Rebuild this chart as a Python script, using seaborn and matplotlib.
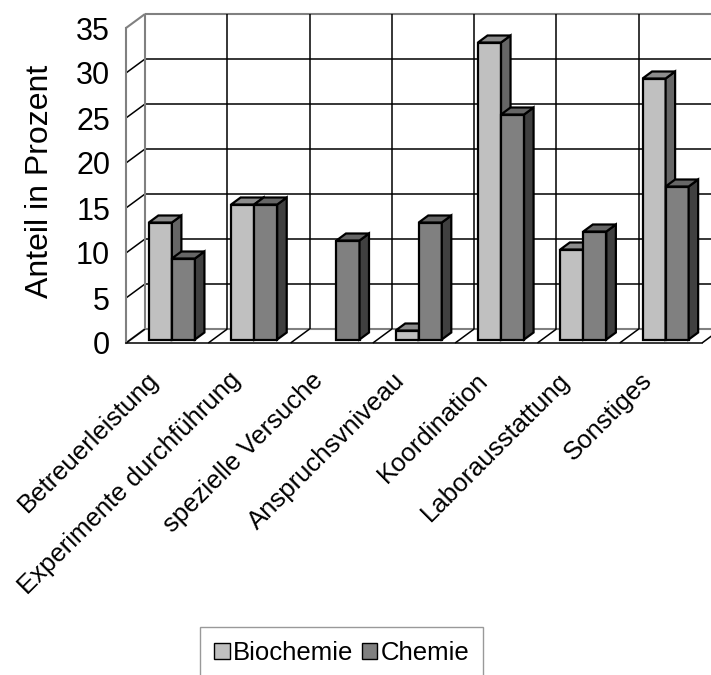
import matplotlib
matplotlib.use("Agg")
import matplotlib.pyplot as plt
import numpy as np
import pandas as pd
import seaborn as sns
from matplotlib.patches import Polygon, Patch
from matplotlib.transforms import ScaledTranslation

# ---- data -------------------------------------------------------------
categories = [
    "Betreuerleistung",
    "Experimente durchführung",
    "spezielle Versuche",
    "Anspruchsvniveau",
    "Koordination",
    "Laborausstattung",
    "Sonstiges",
]
series = ["Biochemie", "Chemie"]
biochemie = [13, 15, 0, 1, 33, 10, 29]
chemie = [9, 15, 11, 13, 25, 12, 17]
y_ticks = [0, 5, 10, 15, 20, 25, 30, 35]

# ---- styling ----------------------------------------------------------
front_colors = ["#c0c0c0", "#808080"]
top_colors = ["#8c8c8c", "#666666"]
side_colors = ["#666666", "#404040"]
edge_gray = "#808080"

sns.set_style("white")
plt.rcParams["font.family"] = ["Liberation Sans", "DejaVu Sans"]
plt.rcParams["text.color"] = "black"
plt.rcParams["axes.labelcolor"] = "black"
plt.rcParams["xtick.color"] = "black"
plt.rcParams["ytick.color"] = "black"

W, H, DPI = 711, 675, 100
fig = plt.figure(figsize=(W / DPI, H / DPI), dpi=DPI)
fig.patch.set_facecolor("white")

# front plane of the 3-D box, in figure pixels
left_px, right_px, top_px, base_px = 126, 702, 28, 343
ax = fig.add_axes([left_px / W, (H - base_px) / H,
                   (right_px - left_px) / W, (base_px - top_px) / H])

n = len(categories)
ymax = y_ticks[-1]
px_x = n / (right_px - left_px)          # data units per pixel
px_y = ymax / (base_px - top_px)

# depth of the walls and placement / depth of the bars (pixels -> data)
WX, WY = 19 * px_x, 14 * px_y
BX0, BY0 = 4.75 * px_x, 3.5 * px_y
BDX, BDY = 9.5 * px_x, 7 * px_y

df = pd.DataFrame({
    "Kategorie": categories * 2,
    "Serie": [series[0]] * n + [series[1]] * n,
    "Wert": biochemie + chemie,
})

sns.barplot(data=df, x="Kategorie", y="Wert", hue="Serie",
            palette=dict(zip(series, front_colors)), width=0.56,
            edgecolor="black", linewidth=1.6, saturation=1,
            legend=False, ax=ax)

ax.set_xlim(-0.5, n - 0.5)
ax.set_ylim(0, ymax)

# ---- walls and floor ---------------------------------------------------
x0, x1 = -0.5, n - 0.5
line_kw = dict(clip_on=False, zorder=1, solid_capstyle="butt")
for v in y_ticks:
    col = edge_gray if v in (0, ymax) else "black"
    lw = 1.5 if v in (0, ymax) else 1.1
    # back wall horizontal grid line
    ax.plot([x0 + WX, x1 + WX + 1], [v + WY, v + WY], color=col, lw=lw, **line_kw)
    # side wall diagonal
    ax.plot([x0, x0 + WX], [v, v + WY], color=col, lw=lw, **line_kw)

boundaries = np.arange(n + 1) - 0.5
for i, b in enumerate(boundaries):
    # floor diagonals
    ax.plot([b, b + WX], [0, WY], color="black", lw=1.1, **line_kw)
    # back wall verticals
    col = edge_gray if i == 0 else "black"
    lw = 1.5 if i == 0 else 1.1
    ax.plot([b + WX, b + WX], [WY, ymax + WY], color=col, lw=lw, **line_kw)

# ---- 3-D faces for the bars -------------------------------------------
for i, cont in enumerate(ax.containers):
    z = 3 + i
    for bar in cont:
        h = bar.get_height()
        if not h or h <= 0:
            bar.set_visible(False)
            continue
        bar.set_x(bar.get_x() + BX0)
        bar.set_y(BY0)
        bar.set_zorder(z)
        bar.set_joinstyle("miter")
        bx0 = bar.get_x()
        bx1 = bx0 + bar.get_width()
        ytop = BY0 + h
        top = Polygon([(bx0, ytop), (bx1, ytop), (bx1 + BDX, ytop + BDY),
                       (bx0 + BDX, ytop + BDY)], closed=True,
                      facecolor=top_colors[i], edgecolor="black", lw=1.6,
                      joinstyle="miter", zorder=z, clip_on=False)
        side = Polygon([(bx1, BY0), (bx1 + BDX, BY0 + BDY),
                        (bx1 + BDX, ytop + BDY), (bx1, ytop)], closed=True,
                       facecolor=side_colors[i], edgecolor="black", lw=1.6,
                       joinstyle="miter", zorder=z, clip_on=False)
        ax.add_patch(side)
        ax.add_patch(top)

# ---- axes, ticks and labels -------------------------------------------
for s in ("top", "right"):
    ax.spines[s].set_visible(False)
ax.spines["left"].set_color(edge_gray)
ax.spines["left"].set_linewidth(1.5)
ax.spines["bottom"].set_color("black")
ax.spines["bottom"].set_linewidth(1.1)
ax.spines["left"].set_zorder(2)

ax.set_yticks(y_ticks)
ax.set_yticklabels([str(v) for v in y_ticks])
ax.tick_params(axis="y", direction="out", length=3, width=1.0,
               color="black", pad=8.5, labelsize=22)

ax.set_xticks(range(n))
ax.set_xticks(boundaries, minor=True)
ax.set_xticklabels(categories, rotation=45, ha="right", va="top",
                   fontsize=18.5)
ax.tick_params(axis="x", which="major", length=0, pad=18)
ax.tick_params(axis="x", which="minor", direction="out", length=5,
               width=1.1, color="black")
shift = ScaledTranslation(-4 / DPI, 0, fig.dpi_scale_trans)
for lab in ax.get_xticklabels():
    lab.set_transform(lab.get_transform() + shift)

ax.set_xlabel("")
ax.set_ylabel("Anteil in Prozent", fontsize=23)
ax.yaxis.set_label_coords(-0.124, 0.514)
ax.set_facecolor("none")

# ---- legend ------------------------------------------------------------
handles = [Patch(facecolor=c, edgecolor="black", lw=1.0) for c in front_colors]
leg = fig.legend(handles, series, loc="upper left",
                 bbox_to_anchor=(200 / W, (H - 627) / H), ncol=2,
                 frameon=True, fancybox=False, shadow=False,
                 edgecolor=edge_gray, fontsize=18.5, handlelength=0.6,
                 handleheight=0.6, handletextpad=0.12, columnspacing=0.35,
                 borderpad=0.55, borderaxespad=0)
leg.get_frame().set_linewidth(1.0)

fig.savefig("out.png", dpi=DPI, facecolor="white")
